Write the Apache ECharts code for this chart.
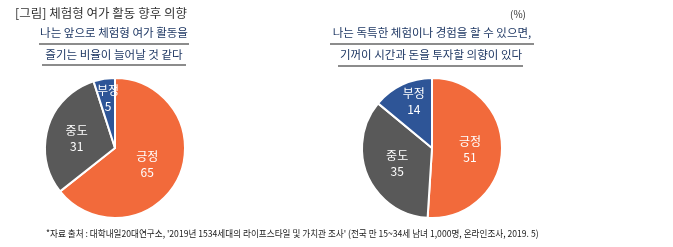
<!DOCTYPE html>
<html><head><meta charset="utf-8">
<script src="https://cdn.jsdelivr.net/npm/echarts@6/dist/echarts.min.js"></script>
<style>html,body{margin:0;padding:0;background:#fff}#c{width:673px;height:247px}</style>
</head><body><div id="c"></div>
<script>
const categories = ['긍정', '중도', '부정'];
const pie1Values = [65, 31, 5];
const pie2Values = [51, 35, 14];
const titleText = '[그림] 체험형 여가 활동 향후 의향';
const unitText = '(%)';
const sub1Lines = ['나는 앞으로 체험형 여가 활동을', '즐기는 비율이 늘어날 것 같다'];
const sub2Lines = ['나는 독특한 체험이나 경험을 할 수 있으면,', '기꺼이 시간과 돈을 투자할 의향이 있다'];
const sourceText = "*자료 출처 : 대학내일20대연구소, '2019년 1534세대의 라이프스타일 및 가치관 조사' (전국 만 15~34세 남녀 1,000명, 온라인조사, 2019. 5)";

const colors = ['#F26A3B', '#595959', '#2E5597'];
const FONT = '"Noto Sans CJK KR", "Noto Sans", sans-serif';

function pieSeries(values, center, shifts) {
  return {
    type: 'pie',
    center: center,
    radius: 70,
    startAngle: 90,
    clockwise: true,
    silent: true,
    itemStyle: { borderColor: '#fff', borderWidth: 2 },
    label: {
      show: true, position: 'inside', color: '#fff',
      fontFamily: FONT, fontSize: 12, lineHeight: 16,
      formatter: p => p.name + '\n' + p.value
    },
    labelLine: { show: false },
    labelLayout: p => ({ dx: shifts[p.dataIndex][0], dy: shifts[p.dataIndex][1] }),
    data: categories.map((n, i) => ({ name: n, value: values[i], itemStyle: { color: colors[i] } }))
  };
}

const chart = echarts.init(document.getElementById('c'), null, { renderer: 'canvas' });
const txt = (x, y, s, size, color, align, weight) => ({
  type: 'text', x: x, y: y,
  style: { text: s, fontFamily: FONT, fontSize: size, fill: color, textAlign: align || 'left', textVerticalAlign: 'middle', fontWeight: weight || 'normal' }
});
const line = (x1, x2, y) => ({ type: 'line', shape: { x1: x1, y1: y, x2: x2, y2: y }, style: { stroke: '#8c8c8c', lineWidth: 2 } });

const src = txt(46, 233, sourceText, 9.5, '#222');
src.scaleX = 0.905;

chart.setOption({
  animation: false,
  graphic: [
    txt(15, 13, titleText, 12.5, '#333'),
    txt(526, 14, unitText, 10, '#333', 'right'),
    txt(114, 33, sub1Lines[0], 11.5, '#1F3864', 'center'),
    line(39, 189, 44),
    txt(114, 55, sub1Lines[1], 11.5, '#1F3864', 'center'),
    line(42, 186, 65),
    txt(432, 33, sub2Lines[0], 11.5, '#1F3864', 'center'),
    line(330, 534, 44),
    txt(431, 55, sub2Lines[1], 11.5, '#1F3864', 'center'),
    line(338, 523, 66),
    src
  ],
  series: [
    pieSeries(pie1Values, [115, 148], [[-2, 0], [-2, 2], [-1, -12]]),
    pieSeries(pie2Values, [432, 148], [[0, 0], [0, 0], [-2, -12]])
  ]
});
</script></body></html>
